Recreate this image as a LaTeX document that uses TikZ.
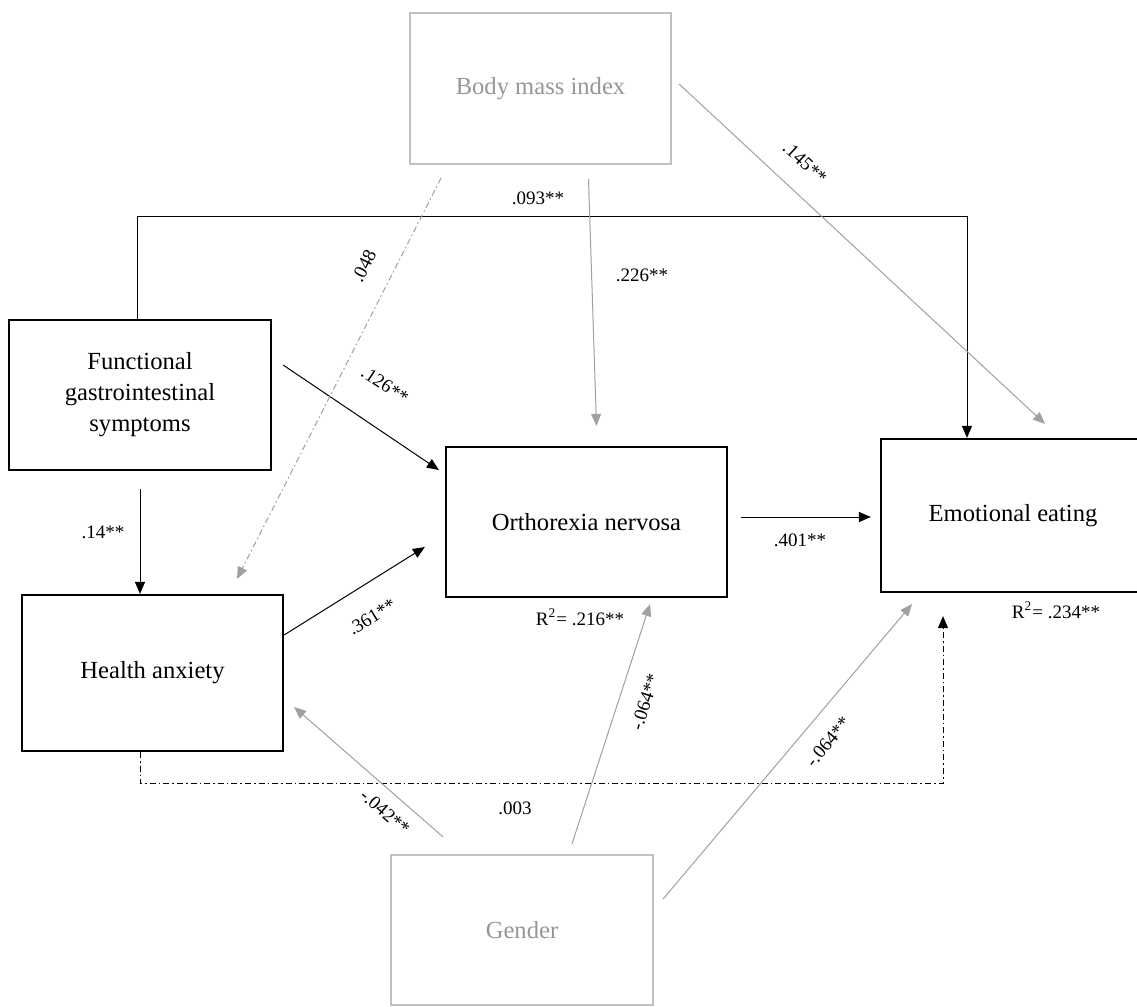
\documentclass[tikz,border=0pt]{standalone}
\usepackage{fontspec}
\setmainfont{Liberation Serif}
\usetikzlibrary{arrows.meta,calc}
\definecolor{boxgrey}{RGB}{192,192,192}
\definecolor{textgrey}{RGB}{150,150,150}
\definecolor{arrowgrey}{RGB}{160,160,160}

\begin{document}
\begin{tikzpicture}[x=0.5pt,y=-0.5pt,
    var/.style={draw, line width=1.1pt, inner sep=0pt, align=center, font=\fontsize{12.3}{15.5}\selectfont},
    covar/.style={var, draw=boxgrey, text=textgrey},
    path/.style={-{Triangle[length=6pt,width=5pt]}, line width=0.5pt},
    greypath/.style={path, draw=arrowgrey},
    dashdot/.style={dash pattern=on 3pt off 1.5pt on 0.8pt off 1.5pt},
    coef/.style={inner sep=1pt, font=\fontsize{9.5}{11}\selectfont}]
            \useasboundingbox (0,0) rectangle (1137,1007);

            \node[covar, minimum width=130.5pt, minimum height=75.5pt] (bmi) at (540.5,88.5) {Body mass index};
            \node[var, minimum width=131pt, minimum height=75pt] (fgs) at (140,395) {Functional\\gastrointestinal\\symptoms};
            \node[var, minimum width=130.5pt, minimum height=78pt] (ha) at (152.5,673) {Health anxiety};
            \node[var, minimum width=140.5pt, minimum height=75pt] (on) at (586.5,522) {Orthorexia nervosa};
            \node[var, minimum width=132pt, minimum height=76.5pt] (ee) at (1013,515.5) {Emotional eating};
            \node[covar, minimum width=131pt, minimum height=75pt] (gen) at (522,930) {Gender};

            \draw[path] ($(fgs.north)+(-3,0)$) |- ($(ee.north)+(-46,-221)$) -- ($(ee.north)+(-46,0)$);
            \draw[path] ($(fgs.east)+(11,-30)$) -- ($(on.west)+(-6,-52)$);
            \draw[path] ($(fgs.south)+(0,18)$) -- ($(ha.north)+(-12.5,0)$);
            \draw[path] ($(ha.east)+(0,-38)$) -- ($(on.west)+(-20,25)$);
            \draw[path] ($(on.east)+(13,-5)$) -- ($(ee.west)+(-9,1.5)$);
            \draw[path, dashdot] ($(ha.south)+(-12.5,0)$) |- ($(ee.south)+(-70,190)$) -- ($(ee.south)+(-70,23)$);

            \draw[greypath] ($(bmi.south)+(48,14)$) -- ($(on.north)+(10,-20)$);
            \draw[greypath] ($(bmi.east)+(7,-4.5)$) -- ($(ee.north)+(32,-14)$);
            \draw[greypath, dashdot] ($(bmi.south)+(-99.5,13)$) -- ($(ha.north)+(84.5,-15)$);
            \draw[greypath] ($(gen.north)+(-79,-17)$) -- ($(ha.east)+(10,34)$);
            \draw[greypath] ($(gen.north)+(50,-10)$) -- ($(on.south)+(63.5,6)$);
            \draw[greypath] ($(gen.east)+(9,-31)$) -- ($(ee.south)+(-101,11)$);

            \node[coef] (c093) at (538,198) {.093**};
            \node[coef] (c226) at (642,275) {.226**};
            \node[coef, rotate=-43] (c145) at (805,163) {.145**};
            \node[coef, rotate=63] (c048) at (364,266) {.048};
            \node[coef, rotate=-33.6] (c126) at (385,385) {.126**};
            \node[coef] (c14) at (103,532) {.14**};
            \node[coef, rotate=31.6] (c361) at (372,617) {.361**};
            \node[coef] (c401) at (800,540) {.401**};
            \node[coef] (r216) at (580,617) {R\textsuperscript{2}= .216**};
            \node[coef] (r234) at (1056,610) {R\textsuperscript{2}= .234**};
            \node[coef] (c003) at (515,808) {.003};
            \node[coef, rotate=-41] (c042) at (385,812) {-.042**};
            \node[coef, rotate=72] (c064a) at (645,702) {-.064**};
            \node[coef, rotate=50] (c064b) at (828,742) {-.064**};
        \end{tikzpicture}
\end{document}
